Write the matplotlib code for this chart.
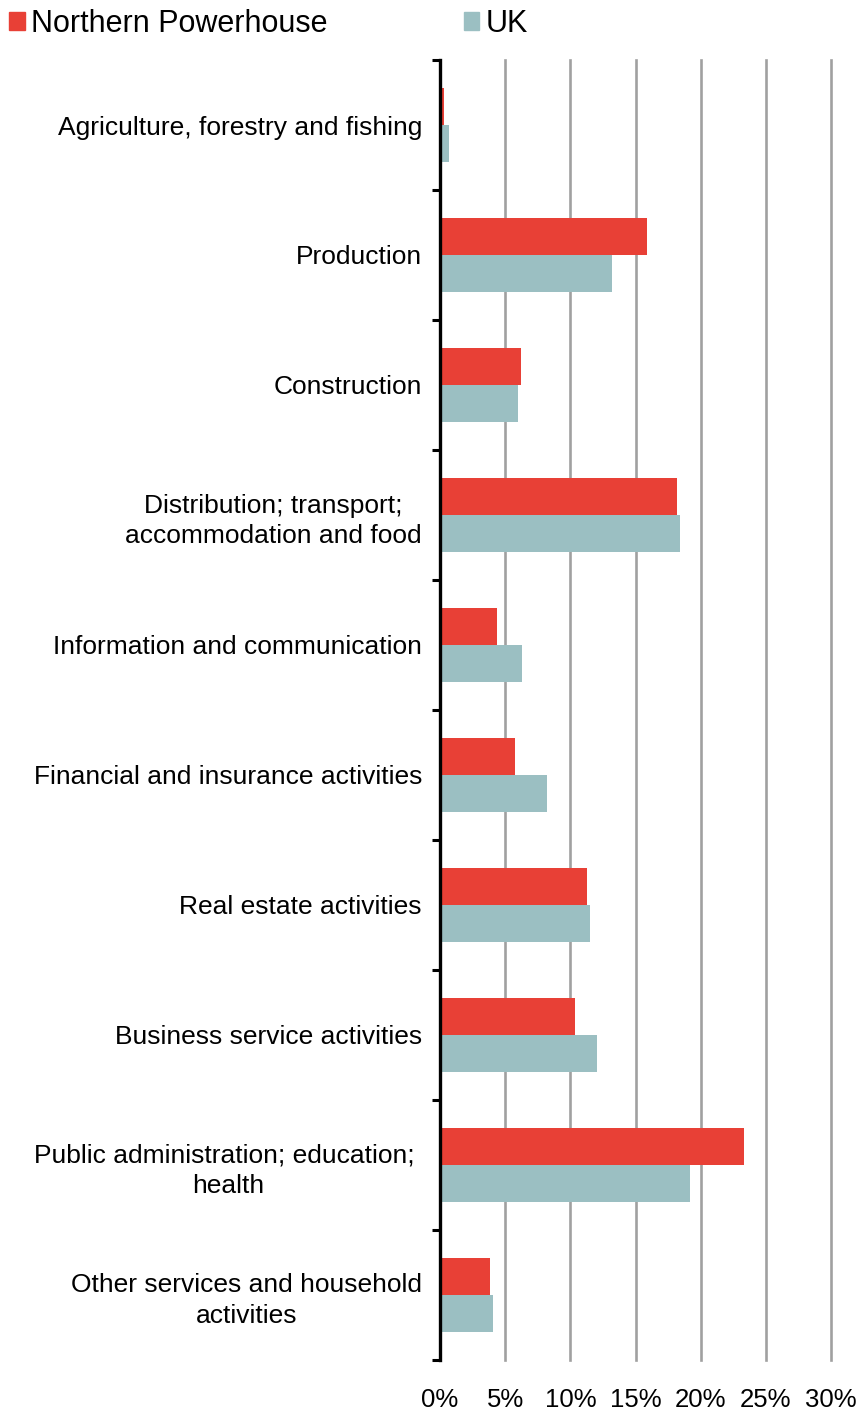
import numpy as np
import matplotlib.pyplot as plt
from matplotlib.patches import Patch

plt.rcParams['font.family'] = ['Liberation Sans', 'DejaVu Sans']

sectors = ['Agriculture, forestry and fishing', 'Production', 'Construction',
           'Distribution; transport;\naccommodation and food',
           'Information and communication', 'Financial and insurance activities',
           'Real estate activities', 'Business service activities',
           'Public administration; education; \nhealth',
           'Other services and household\nactivities']
northern = [0.3, 15.9, 6.2, 18.2, 4.4, 5.75, 11.3, 10.35, 23.3, 3.8]
uk = [0.7, 13.2, 6.0, 18.4, 6.3, 8.2, 11.5, 12.05, 19.2, 4.05]
xticks = [0, 5, 10, 15, 20, 25, 30]

red = '#E84036'
teal = '#9BBFC2'

W, H = 861, 1416
fig = plt.figure(figsize=(W/100, H/100), dpi=100)
ax = fig.add_axes([440/W, 1-1360/H, (831-440)/W, 1300/H])

y = np.arange(len(sectors))
h = 0.285
ax.barh(y - h/2, northern, height=h, color=red, zorder=2)
ax.barh(y + h/2, uk, height=h, color=teal, zorder=2)

ax.set_xlim(0, 30)
ax.set_ylim(len(sectors)-0.5, -0.5)

for s in ['top', 'right', 'bottom']:
    ax.spines[s].set_visible(False)
ax.spines['left'].set_linewidth(2.4)
ax.spines['left'].set_zorder(3)

ax.set_xticks(xticks)
ax.set_xticklabels([f'{v}%' for v in xticks])
ax.tick_params(axis='x', length=0, pad=20, labelsize=18.5)
ax.xaxis.grid(True, color='#A0A0A0', linewidth=1.9, zorder=0)
for gl in ax.get_xgridlines():
    gl.set_clip_on(False)
ax.set_axisbelow(True)

ax.set_yticks(np.arange(len(sectors)+1) - 0.5)
ax.set_yticklabels([])
ax.tick_params(axis='y', which='major', length=5.5, width=2.2, direction='out')
ax.set_yticks(y, minor=True)
ax.set_yticklabels(sectors, minor=True, fontsize=19, linespacing=1.35,
                   multialignment='center')
ax.tick_params(axis='y', which='minor', length=0, pad=13)

handles = [Patch(color=red, label='Northern Powerhouse'), Patch(color=teal, label='UK')]
fig.legend(handles=handles, loc='upper left', bbox_to_anchor=(-0.014, 1.009), ncol=2,
           frameon=False, fontsize=22, handlelength=0.5, handleheight=0.5,
           handletextpad=0.22, columnspacing=4.45, borderaxespad=0.3)

fig.savefig('out.png', dpi=100)
